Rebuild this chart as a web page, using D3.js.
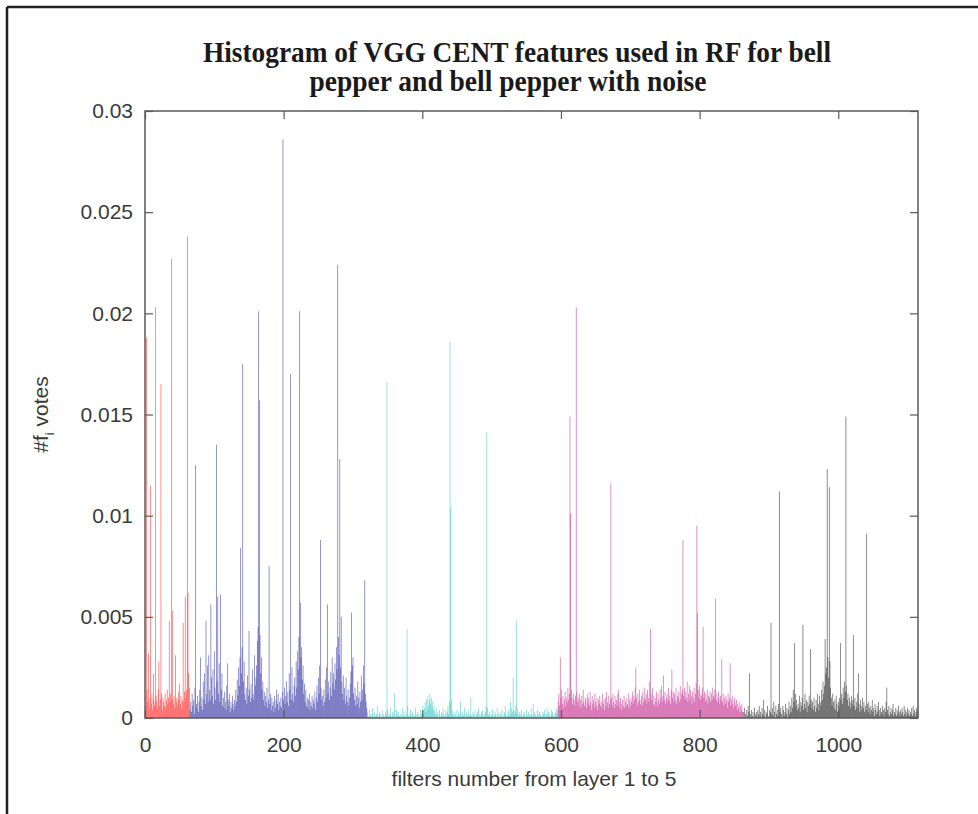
<!DOCTYPE html>
<html>
<head>
<meta charset="utf-8">
<script src="https://cdn.jsdelivr.net/npm/d3@7"></script>
<style>
  html, body { margin: 0; padding: 0; background: #fff; }
  svg { display: block; }
</style>
</head>
<body>
<svg id="chart" width="978" height="814"></svg>
<script>
// ---- DATA (values in units of 1e-4 votes, one per filter index) ----
const titleLines = ["Histogram of VGG CENT features used in RF for bell", "pepper and bell pepper with noise"];
const xLabel = "filters number from layer 1 to 5";
const xTicks = [0, 200, 400, 600, 800, 1000];
const yTicks = [0, 0.005, 0.01, 0.015, 0.02, 0.025, 0.03];
const yTickLabels = ["0", "0.005", "0.01", "0.015", "0.02", "0.025", "0.03"];
const xMax = 1115;
const yMax = 0.03;

const layerNames = ["layer 1", "layer 2", "layer 3", "layer 4", "layer 5"];
const layerStart = [1, 65, 321, 596, 863];
const layerColors = ["#ff1010", "#22229a", "#2fbfbf", "#bf1e86", "#111111"];

const layer1E4 = [6,188,14,8,32,5,10,115,7,12,4,22,9,6,203,11,8,5,14,28,6,9,165,12,4,10,8,6,12,5,9,14,7,10,48,8,12,227,9,53,7,11,5,31,8,10,6,13,9,17,7,11,5,9,47,8,13,60,10,14,238,62,22,15];

const layer2E4 = [
4,8,3,12,6,9,2,15,125,7,5,11,3,8,14,30,
6,10,4,18,9,22,7,48,12,26,8,31,14,9,56,20,
11,24,7,33,15,9,135,18,60,12,27,8,61,14,22,6,
10,5,13,8,4,16,27,9,6,12,3,8,5,11,7,4,
9,6,14,8,19,11,25,16,30,84,22,35,175,18,28,12,
9,15,7,21,11,43,14,8,17,10,24,12,9,31,16,20,
26,38,45,201,157,41,22,30,14,18,9,13,6,11,8,15,
5,9,75,7,12,4,10,6,8,3,11,5,9,14,7,12,
4,8,6,10,5,13,286,9,15,7,11,18,8,13,6,22,
14,170,9,25,12,8,16,20,11,28,15,33,24,40,201,57,
30,35,19,26,12,17,8,14,6,10,5,9,12,4,8,6,
11,5,9,7,13,4,10,16,8,20,12,26,88,15,9,11,
6,14,8,19,10,25,56,12,18,9,15,23,11,30,17,22,
14,27,19,35,24,224,40,31,128,25,50,18,12,21,9,15,
7,20,11,8,14,6,10,17,23,52,26,30,12,9,15,6,
11,7,18,10,5,13,8,21,9,14,26,17,68,12,8,5];

const layer3E4 = [
3,1,0,4,2,0,1,5,2,0,3,1,0,2,6,1,0,3,2,0,1,4,0,2,1,
0,3,2,166,4,1,0,2,5,1,0,3,1,2,12,0,1,4,2,0,3,1,0,2,1,
5,0,2,1,3,0,2,44,6,1,0,2,4,1,0,3,2,0,1,5,2,0,3,1,2,
0,4,1,2,3,6,2,5,8,3,9,4,11,6,9,12,7,10,5,8,4,6,3,2,5,
1,3,0,2,4,1,0,3,2,5,1,0,2,4,1,3,6,2,8,186,104,9,4,2,1,
3,0,2,1,4,0,2,3,1,8,2,0,3,1,2,5,0,1,3,2,0,4,1,2,10,
1,0,3,2,1,4,0,2,1,3,5,2,0,1,3,2,4,1,0,2,3,6,141,5,2,
1,3,0,2,1,4,2,0,1,3,2,0,5,1,2,0,3,1,2,4,0,1,3,2,6,
2,0,1,4,3,1,8,2,5,3,20,4,2,6,3,48,5,2,1,3,0,2,4,1,0,
2,3,1,0,4,2,1,3,0,2,1,5,2,0,7,1,3,2,0,1,4,2,0,3,1,
2,0,1,3,2,4,1,0,2,5,1,3,2,0,1,4,2,3,1,2,0,3,5,2,4];

const layer4E4 = [
8,12,6,30,10,14,7,11,5,9,13,6,10,8,15,9,12,149,101,14,
10,7,12,9,6,11,203,13,8,10,6,12,9,5,11,7,14,8,6,10,
9,5,12,7,10,6,13,8,4,11,7,9,5,12,8,6,10,4,9,7,
11,6,8,5,12,7,9,4,10,6,13,8,5,11,7,9,116,10,6,12,
8,5,11,7,9,6,12,14,8,5,10,7,4,9,6,11,5,8,10,6,
7,12,5,9,6,10,8,13,7,11,9,15,25,10,6,12,8,14,9,7,
11,6,13,8,10,15,9,12,7,14,10,8,18,44,12,9,15,7,11,6,
10,8,13,6,12,9,7,14,10,16,8,11,21,9,13,7,10,12,8,15,
9,11,7,14,24,10,13,8,12,9,15,7,11,10,13,8,16,9,12,14,
88,11,15,9,13,10,18,8,12,16,9,14,11,7,13,10,15,8,12,17,
95,52,14,10,16,9,12,11,15,45,10,13,8,12,9,14,7,11,10,13,
8,12,9,15,11,10,14,59,9,12,8,13,10,7,11,9,29,8,12,6,
10,7,11,9,5,12,8,10,27,6,9,11,7,5,10,8,6,9,4,7,
5,8,3,6,4,7,3];

const layer5E4 = [
3,0,5,2,0,4,1,6,3,22,2,0,4,1,3,0,5,2,1,3,
0,4,2,6,1,3,0,5,2,9,1,4,0,3,2,6,1,0,4,3,
47,2,5,1,8,3,0,6,2,4,1,7,112,3,5,2,0,6,4,1,
3,7,2,5,0,4,8,2,6,3,10,5,14,8,37,12,6,9,4,7,
5,11,3,8,6,10,46,4,7,12,5,9,3,8,6,11,7,34,9,5,
8,4,10,6,3,9,5,12,7,4,11,8,6,14,9,18,12,16,39,22,
25,123,30,20,114,28,15,10,6,12,8,5,9,4,11,7,3,8,6,10,
37,9,12,7,15,10,18,13,149,16,9,12,6,10,8,5,11,7,9,41,
6,10,4,8,5,12,22,7,3,9,6,4,10,5,8,3,6,4,91,7,
3,8,5,2,6,4,9,3,5,1,7,4,2,6,3,8,4,1,5,3,
2,6,4,1,5,3,8,15,4,2,6,1,3,5,2,4,7,1,3,2,
5,1,4,2,6,3,1,4,2,5,3,1,6,2,4,1,3,5,2,4,
1,3,2,5,1,6,2,4,1,3,5,2,4];

const layerValues = [layer1E4, layer2E4, layer3E4, layer4E4, layer5E4];

// ---- LAYOUT ----
const svg = d3.select("#chart");
const W = 978, H = 814;
const plot = {left: 145, right: 918, top: 111, bottom: 718};

// outer frame (top and left edges visible)
svg.append("line").attr("x1", 7).attr("y1", 7).attr("x2", W).attr("y2", 7)
  .attr("stroke", "#222").attr("stroke-width", 2.5);
svg.append("line").attr("x1", 7).attr("y1", 7).attr("x2", 7).attr("y2", H)
  .attr("stroke", "#222").attr("stroke-width", 2.5);

const x = d3.scaleLinear().domain([0, xMax]).range([plot.left, plot.right]);
const y = d3.scaleLinear().domain([0, yMax]).range([plot.bottom, plot.top]);

// bars
const bars = [];
layerValues.forEach((vals, li) => {
  vals.forEach((v, i) => {
    bars.push({idx: layerStart[li] + i, value: v / 1e4, layer: li});
  });
});
const bw = 0.7;
svg.append("g").selectAll("rect").data(bars).join("rect")
  .attr("x", d => x(d.idx) - bw / 2)
  .attr("width", bw)
  .attr("y", d => y(d.value))
  .attr("height", d => y(0) - y(d.value))
  .attr("fill", d => layerColors[d.layer])
  .attr("fill-opacity", 0.68);

// axes box
const axisColor = "#5a5a5a";
svg.append("rect").attr("x", plot.left).attr("y", plot.top)
  .attr("width", plot.right - plot.left).attr("height", plot.bottom - plot.top)
  .attr("fill", "none").attr("stroke", axisColor).attr("stroke-width", 1.5);

const tickLen = 8;
const fontSans = "'Liberation Sans', Arial, Helvetica, sans-serif";

// x axis (bottom) ticks inward + labels
const xAxis = d3.axisBottom(x).tickValues(xTicks).tickSizeInner(-tickLen).tickSizeOuter(0)
  .tickPadding(19).tickFormat(d3.format("d"));
const gx = svg.append("g").attr("transform", `translate(0,${plot.bottom})`).call(xAxis);
gx.select(".domain").remove();
gx.selectAll("line").attr("stroke", axisColor).attr("stroke-width", 1.2);
gx.selectAll("text").attr("font-family", fontSans).attr("font-size", 21).attr("fill", "#3a3a3a");

// top ticks
const xAxisTop = d3.axisTop(x).tickValues(xTicks).tickSizeInner(-tickLen).tickSizeOuter(0).tickFormat("");
const gxt = svg.append("g").attr("transform", `translate(0,${plot.top})`).call(xAxisTop);
gxt.select(".domain").remove();
gxt.selectAll("line").attr("stroke", axisColor).attr("stroke-width", 1.2);

// y axis (left)
const yAxis = d3.axisLeft(y).tickValues(yTicks).tickSizeInner(-tickLen).tickSizeOuter(0).tickPadding(12)
  .tickFormat((d, i) => yTickLabels[i]);
const gy = svg.append("g").attr("transform", `translate(${plot.left},0)`).call(yAxis);
gy.select(".domain").remove();
gy.selectAll("line").attr("stroke", axisColor).attr("stroke-width", 1.2);
gy.selectAll("text").attr("font-family", fontSans).attr("font-size", 21).attr("fill", "#3a3a3a");

// y axis right ticks
const yAxisR = d3.axisRight(y).tickValues(yTicks).tickSizeInner(-tickLen).tickSizeOuter(0).tickFormat("");
const gyr = svg.append("g").attr("transform", `translate(${plot.right},0)`).call(yAxisR);
gyr.select(".domain").remove();
gyr.selectAll("line").attr("stroke", axisColor).attr("stroke-width", 1.2);

// x label
svg.append("text").attr("x", 534).attr("y", 786)
  .attr("text-anchor", "middle").attr("font-family", fontSans).attr("font-size", 21)
  .attr("fill", "#3a3a3a").text(xLabel);

// y label with subscript
const yl = svg.append("text")
  .attr("transform", `translate(48,${(plot.top + plot.bottom) / 2}) rotate(-90)`)
  .attr("text-anchor", "middle").attr("font-family", fontSans).attr("font-size", 21).attr("fill", "#3a3a3a");
yl.append("tspan").text("#f");
yl.append("tspan").attr("font-size", 13).attr("dy", 6).text("i");
yl.append("tspan").attr("dy", -6).text(" votes");

// title
const titleY = [62, 91];
const titleX = [517, 508];
const titleW = [628, 397];
titleLines.forEach((t, i) => {
  svg.append("text").attr("x", titleX[i]).attr("y", titleY[i])
    .attr("text-anchor", "middle")
    .attr("font-family", "'Liberation Serif', 'Times New Roman', serif")
    .attr("font-weight", "bold").attr("font-size", 29).attr("fill", "#1a1a1a")
    .attr("textLength", titleW[i]).attr("lengthAdjust", "spacingAndGlyphs")
    .text(t);
});
</script>
</body>
</html>
